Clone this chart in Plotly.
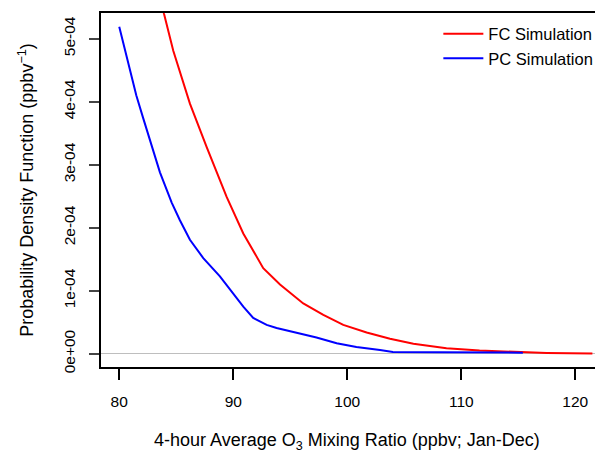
import plotly.graph_objects as go

# FC simulation curve
fc_x = [83.7, 83.92, 84.74, 85.5, 86.2, 87.67, 89.42, 90.88, 92.63, 94.1, 96.14, 97.9,
        99.65, 101.7, 103.75, 105.8, 108.7, 111.6, 114.56, 117.5, 121.5]
fc_y = [5.6e-4, 5.40e-4, 4.81e-4, 4.38e-4, 3.97e-4, 3.28e-4, 2.49e-4, 1.91e-4, 1.36e-4, 1.10e-4,
        0.80e-4, 0.62e-4, 0.46e-4, 0.34e-4, 0.24e-4, 0.16e-4, 0.09e-4, 0.053e-4, 0.03e-4,
        0.015e-4, 0.005e-4]

# PC simulation curve
pc_x = [80.0, 80.35, 80.94, 81.5, 82.1, 82.98, 83.57, 84.6, 85.32, 86.2, 87.37, 88.83,
        89.71, 90.88, 91.75, 92.93, 93.8, 95.56, 97.3, 99.07, 100.8, 102.87, 104.0,
        108.0, 112.0, 115.4]
pc_y = [5.19e-4, 4.93e-4, 4.52e-4, 4.10e-4, 3.74e-4, 3.20e-4, 2.88e-4, 2.40e-4, 2.12e-4,
        1.81e-4, 1.52e-4, 1.23e-4, 1.02e-4, 0.75e-4, 0.57e-4, 0.46e-4, 0.41e-4, 0.34e-4,
        0.26e-4, 0.17e-4, 0.11e-4, 0.06e-4, 0.03e-4, 0.025e-4, 0.025e-4, 0.02e-4]

x_ticks = [80, 90, 100, 110, 120]
y_ticks = [0, 1e-4, 2e-4, 3e-4, 4e-4, 5e-4]
y_tick_labels = ["0e+00", "1e-04", "2e-04", "3e-04", "4e-04", "5e-04"]
x_title = "4-hour Average O<sub>3</sub> Mixing Ratio (ppbv; Jan-Dec)"
y_title = "Probability Density Function (ppbv<sup>−1</sup>)"

FONT = "Liberation Sans, Arial, sans-serif"

fig = go.Figure()
fig.add_trace(go.Scatter(x=fc_x, y=fc_y, mode="lines", name="FC Simulation",
                         line=dict(color="#FF0000", width=2)))
fig.add_trace(go.Scatter(x=pc_x, y=pc_y, mode="lines", name="PC Simulation",
                         line=dict(color="#0000FF", width=2)))

# page body has an 8px margin, so the figure is 8px smaller and offset accordingly
fig.update_layout(
    width=595, height=444,
    margin=dict(l=93, r=0, t=5, b=85, autoexpand=False),
    paper_bgcolor="white", plot_bgcolor="white",
    font=dict(family=FONT, color="black", size=15),
    showlegend=True,
    legend=dict(x=0.672, y=0.99, xanchor="left", yanchor="top",
                bgcolor="rgba(0,0,0,0)", font=dict(size=16.5, family=FONT),
                itemwidth=40, tracegroupgap=0),
    xaxis=dict(range=[78.4, 122.43], tickvals=x_ticks, ticks="outside", ticklen=11,
               tickwidth=1.5, tickcolor="black", showline=True, linecolor="black",
               linewidth=2, mirror=True, showgrid=False, zeroline=False,
               tickfont=dict(size=15.5), ticklabelstandoff=8, automargin=False),
    yaxis=dict(range=[-2.08e-5, 5.408e-4], tickvals=y_ticks, ticktext=y_tick_labels,
               ticks="outside", ticklen=10, tickwidth=1.5, tickcolor="#444444",
               showline=True, linecolor="black", linewidth=2, showgrid=False,
               zeroline=True, zerolinecolor="#BEBEBE", zerolinewidth=1,
               tickangle=-90, tickfont=dict(size=15.5), ticklabelstandoff=8, automargin=False,
               title=dict(text=y_title, font=dict(size=18), standoff=22)),
    annotations=[dict(text=x_title, xref="x", yref="paper", x=100, y=0,
                      xanchor="center", yanchor="middle", yshift=-74, showarrow=False,
                      font=dict(size=18, family=FONT, color="black"))],
)

fig.write_html("out.html")
